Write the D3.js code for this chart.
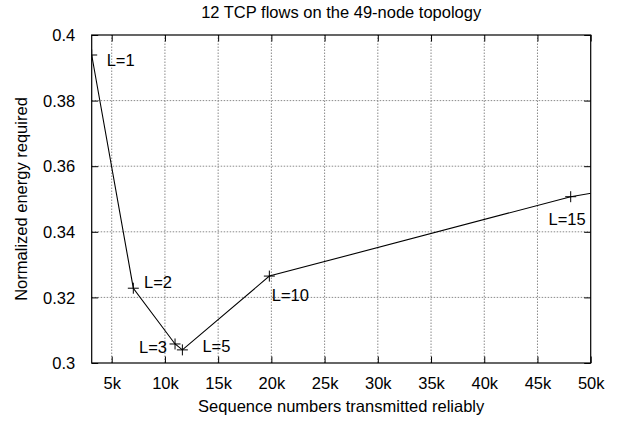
<!DOCTYPE html>
<html>
<head>
<meta charset="utf-8">
<script src="https://cdn.jsdelivr.net/npm/d3@7"></script>
<style>
  html, body { margin: 0; padding: 0; background: #fff; }
  svg { display: block; }
  text { font-family: "Liberation Sans", Arial, Helvetica, sans-serif; fill: #000; }
</style>
</head>
<body>
<script>
// ---- data ----
const seqNumbers = [3120, 7030, 10950, 11640, 19810, 48120, 60000];
const energy     = [0.3939, 0.3228, 0.3058, 0.3040, 0.3265, 0.3507, 0.3573];
const labels     = ["L=1", "L=2", "L=3", "L=5", "L=10", "L=15", ""];
const xTicks = [5000, 10000, 15000, 20000, 25000, 30000, 35000, 40000, 45000, 50000];
const xTickLabels = ["5k", "10k", "15k", "20k", "25k", "30k", "35k", "40k", "45k", "50k"];
const yTicks = [0.30, 0.32, 0.34, 0.36, 0.38, 0.40];
const yTickLabels = ["0.3", "0.32", "0.34", "0.36", "0.38", "0.4"];
const title = "12 TCP flows on the 49-node topology";
const xTitle = "Sequence numbers transmitted reliably";
const yTitle = "Normalized energy required";

// ---- layout ----
const W = 621, H = 422;
const m = { left: 91.7, right: W - 590.7, top: 35, bottom: H - 363 };
const fs = 16.5;
// label placement relative to point (pixels) : [dx, dy, anchor]
const labelPlace = [
  [15, 11, "start"], [10.7, -0.7, "start"], [-8, 8.6, "end"], [20, 2.6, "start"],
  [2.4, 25, "start"], [15, 28, "end"], [0, 0, "start"]
];

const data = seqNumbers.map((x, i) => ({ x, y: energy[i], label: labels[i], i }));

const svg = d3.select("body").append("svg").attr("width", W).attr("height", H);
svg.append("rect").attr("width", W).attr("height", H).attr("fill", "#fff");

const x = d3.scaleLinear().domain([d3.min(seqNumbers), 50000]).range([m.left, W - m.right]);
const y = d3.scaleLinear().domain([0.30, 0.40]).range([H - m.bottom, m.top]);

const x0 = x.range()[0], x1 = x.range()[1], y0 = y.range()[0], y1 = y.range()[1];

// grid
const grid = svg.append("g").attr("stroke", "#8a8a8a").attr("stroke-width", 1)
  .attr("stroke-dasharray", "1.5,1.5").attr("fill", "none");
xTicks.filter(t => t < 50000).forEach(t => {
  grid.append("line").attr("x1", x(t)).attr("x2", x(t)).attr("y1", y0).attr("y2", y1);
});
yTicks.filter(t => t > 0.30 && t < 0.40).forEach(t => {
  grid.append("line").attr("x1", x0).attr("x2", x1).attr("y1", y(t)).attr("y2", y(t));
});

// axes (d3 axes with inward ticks)
const tl = 6.5;
const xAxis = d3.axisBottom(x).tickValues(xTicks).tickFormat((d, i) => xTickLabels[i]).tickSizeInner(-tl).tickSizeOuter(0).tickPadding(tl + 8);
const gx = svg.append("g").attr("transform", `translate(0,${y0})`).call(xAxis);
const xAxisTop = d3.axisTop(x).tickValues(xTicks).tickFormat("").tickSizeInner(-tl).tickSizeOuter(0);
const gxt = svg.append("g").attr("transform", `translate(0,${y1})`).call(xAxisTop);
const yAxis = d3.axisLeft(y).tickValues(yTicks).tickFormat((d, i) => yTickLabels[i]).tickSizeInner(-tl).tickSizeOuter(0).tickPadding(tl + 10);
const gy = svg.append("g").attr("transform", `translate(${x0},0)`).call(yAxis);
const yAxisR = d3.axisRight(y).tickValues(yTicks).tickFormat("").tickSizeInner(-tl).tickSizeOuter(0);
const gyr = svg.append("g").attr("transform", `translate(${x1},0)`).call(yAxisR);

[gx, gxt, gy, gyr].forEach(g => {
  g.select(".domain").remove();
  g.selectAll(".tick line").attr("stroke", "#000").attr("stroke-width", 1);
  g.selectAll(".tick text").attr("font-size", fs).attr("font-family", "Liberation Sans, Arial, sans-serif").attr("fill", "#000");
});
gx.selectAll(".tick text").attr("dy", "0.71em");
gy.selectAll(".tick text").attr("dy", "0.35em");

// border
svg.append("rect").attr("x", x0).attr("y", y1).attr("width", x1 - x0).attr("height", y0 - y1)
  .attr("fill", "none").attr("stroke", "#000").attr("stroke-width", 1.2);

// clip
svg.append("clipPath").attr("id", "clip").append("rect")
  .attr("x", x0).attr("y", y1 - 10).attr("width", x1 - x0).attr("height", y0 - y1 + 20);

const plot = svg.append("g").attr("clip-path", "url(#clip)");
const line = d3.line().x(d => x(d.x)).y(d => y(d.y));
plot.append("path").datum(data).attr("d", line).attr("fill", "none").attr("stroke", "#000").attr("stroke-width", 1.1);

const ps = 5.5;
const pts = plot.selectAll(".pt").data(data.filter(d => d.x <= 50000)).enter().append("g")
  .attr("transform", d => `translate(${x(d.x)},${y(d.y)})`);
pts.append("line").attr("x1", -ps).attr("x2", ps).attr("stroke", "#000").attr("stroke-width", 1);
pts.append("line").attr("y1", -ps).attr("y2", ps).attr("stroke", "#000").attr("stroke-width", 1);

// point labels
svg.selectAll(".lbl").data(data.filter(d => d.label)).enter().append("text")
  .attr("x", d => x(d.x) + labelPlace[d.i][0])
  .attr("y", d => y(d.y) + labelPlace[d.i][1])
  .attr("text-anchor", d => labelPlace[d.i][2])
  .attr("font-size", fs)
  .text(d => d.label);

// titles
svg.append("text").attr("x", (x0 + x1) / 2).attr("y", 18).attr("text-anchor", "middle").attr("font-size", fs).text(title);
svg.append("text").attr("x", (x0 + x1) / 2).attr("y", 412).attr("text-anchor", "middle").attr("font-size", fs).text(xTitle);
svg.append("text").attr("transform", `translate(27,${(y0 + y1) / 2}) rotate(-90)`).attr("text-anchor", "middle").attr("font-size", fs).text(yTitle);
</script>
</body>
</html>
